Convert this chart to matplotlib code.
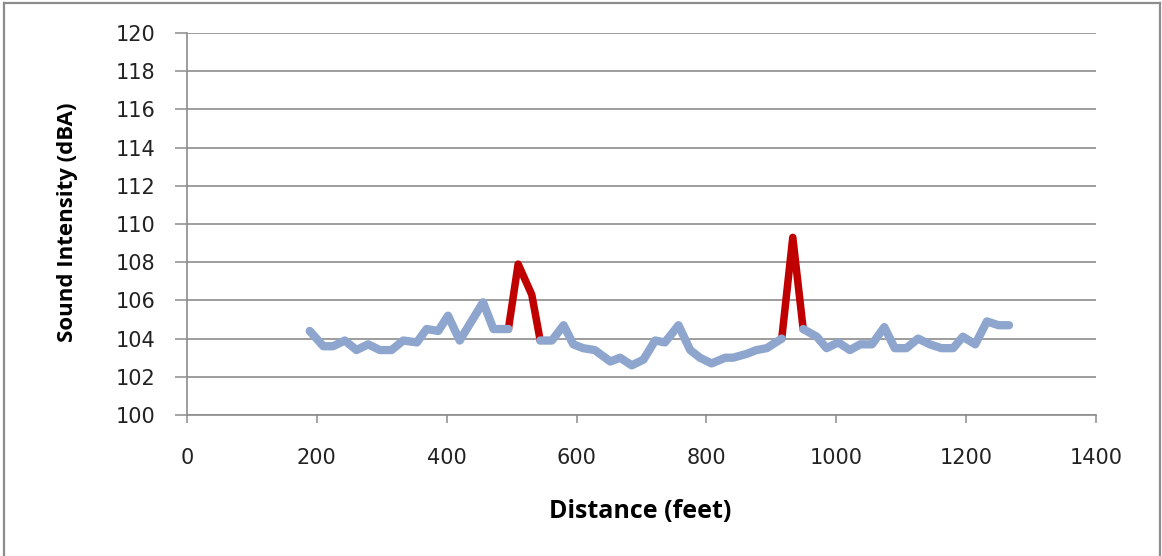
"""
Sound intensity vs distance (Excel-style line chart)
"""
import numpy as np
import matplotlib
matplotlib.use("Agg")
import matplotlib.pyplot as plt
from matplotlib.lines import Line2D

# distance (feet) and measured level (dBA)
distance = [189, 210, 225, 243, 261, 279, 297, 315, 333, 354, 369, 387, 402, 420,
            438, 456, 472, 495, 510, 531, 544, 562, 580, 595, 610, 628, 652, 667,
            685, 703, 721, 736, 757, 775, 790, 808, 829, 841, 862, 877, 893, 916,
            933, 949, 970, 985, 1003, 1021, 1037, 1055, 1074, 1090, 1108, 1126,
            1144, 1162, 1180, 1195, 1214, 1232, 1250, 1266]
intensity = [104.4, 103.6, 103.6, 103.9, 103.4, 103.7, 103.4, 103.4, 103.9, 103.8,
             104.5, 104.4, 105.2, 103.9, 104.9, 105.9, 104.5, 104.5, 107.9, 106.3,
             103.9, 103.9, 104.7, 103.7, 103.5, 103.4, 102.8, 103.0, 102.6, 102.9,
             103.9, 103.8, 104.7, 103.4, 103.0, 102.7, 103.0, 103.0, 103.2, 103.4,
             103.5, 104.0, 109.3, 104.5, 104.1, 103.5, 103.8, 103.4, 103.7, 103.7,
             104.6, 103.5, 103.5, 104.0, 103.7, 103.5, 103.5, 104.1, 103.7, 104.9,
             104.7, 104.7]
# index ranges of the highlighted (red) peaks
peaks = [(17, 20), (41, 43)]

x_ticks = [0, 200, 400, 600, 800, 1000, 1200, 1400]
y_ticks = [100, 102, 104, 106, 108, 110, 112, 114, 116, 118, 120]

BLUE = "#8EA6CE"
RED = "#C00000"
GRID = "#8C8C8C"

x = np.array(distance, dtype=float)
y = np.array(intensity, dtype=float)

# base series with gaps where the peaks are
y_base = y.copy()
for a, b in peaks:
    y_base[a + 1:b] = np.nan

fig = plt.figure(figsize=(11.62, 5.56), dpi=100)
ax = fig.add_axes([187 / 1162, 1 - 415 / 556, (1096 - 187) / 1162, (415 - 33) / 556])

for a, b in peaks:
    ax.plot(x[a:b + 1], y[a:b + 1], color=RED, lw=5.4, solid_capstyle="round",
            solid_joinstyle="round", zorder=3)
ax.plot(x, y_base, color=BLUE, lw=6.0, solid_capstyle="round",
        solid_joinstyle="round", zorder=4)

ax.set_xlim(0, 1400)
ax.set_ylim(100, 120)
ax.set_xticks(x_ticks)
ax.set_yticks(y_ticks)
ax.set_yticklabels([str(v) for v in y_ticks], fontsize=15, color="#222222")
ax.set_xticklabels([str(v) for v in x_ticks], fontsize=15, color="#222222")
ax.tick_params(axis="y", length=8.5, width=1.1, color=GRID, pad=14)
ax.tick_params(axis="x", length=5.5, width=1.1, color=GRID, pad=18)

ax.grid(axis="y", color=GRID, lw=1.2)
ax.set_axisbelow(True)
for side in ["top", "right"]:
    ax.spines[side].set_visible(False)
ax.spines["left"].set_color(GRID)
ax.spines["bottom"].set_color(GRID)
ax.spines["left"].set_linewidth(1.2)
ax.spines["bottom"].set_linewidth(1.2)

fig.text(68 / 1162, 1 - 222 / 556, "Sound Intensity (dBA)", rotation=90,
         ha="center", va="center", fontsize=16, fontweight="bold",
         family="Open Sans")
fig.text(640 / 1162, 1 - 511 / 556, "Distance (feet)", ha="center", va="center",
         fontsize=18, fontweight="bold", family="Open Sans")

# outer chart border
bx0, bx1, by1 = 4 / 1162, 1160 / 1162, 1 - 3 / 556
for xs, ys in [([bx0, bx0], [0, by1]), ([bx0, bx1], [by1, by1]), ([bx1, bx1], [by1, 0])]:
    fig.add_artist(Line2D(xs, ys, color="#8C8C8C", lw=1.6, transform=fig.transFigure))

fig.savefig("out.png", dpi=100)
